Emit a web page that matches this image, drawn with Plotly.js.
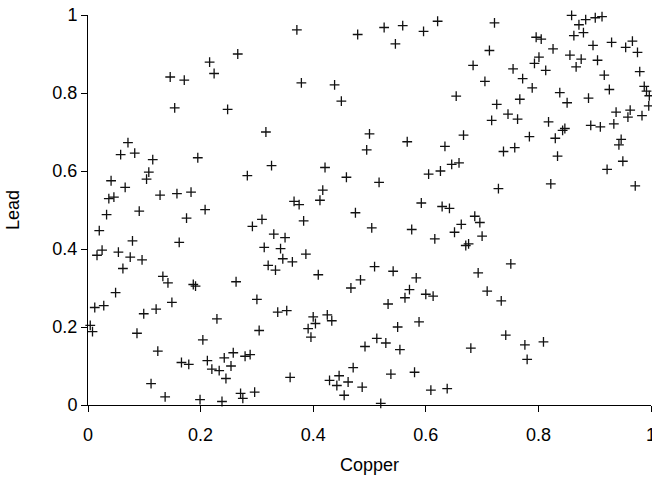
<!DOCTYPE html>
<html>
<head>
<meta charset="utf-8">
<script src="https://cdn.plot.ly/plotly-3.0.1.min.js"></script>
<style>
html,body{margin:0;padding:0;background:#fff;}
#chart{width:652px;height:477px;}
</style>
</head>
<body>
<div id="chart"></div>
<script>
const copper = [
0.216,0.224,0.146,0.171,0.154,0.248,0.071,0.371,0.479,0.266,0.379,0.438,0.450,0.316,0.500,
0.526,0.559,0.596,0.621,0.722,0.546,0.713,0.684,0.705,0.654,0.726,0.746,0.717,0.567,0.667,0.634,
0.859,0.872,0.884,0.901,0.913,0.863,0.880,0.796,0.805,0.897,0.930,0.967,0.955,0.976,0.826,0.856,
0.876,0.905,0.801,0.793,0.867,0.755,0.813,0.980,0.917,0.772,0.789,0.926,0.988,0.992,0.997,0.996,
0.838,0.851,0.889,0.767,0.763,0.818,0.843,0.847,0.893,0.910,0.938,0.963,0.959,0.984,0.934,0.784,
0.830,0.947,0.943,0.758,0.738,0.834,0.950,0.922,0.822,0.972,0.751,
0.058,0.083,0.115,0.195,0.108,0.104,0.041,0.066,0.037,0.046,0.128,0.158,0.183,0.033,0.091,0.175,
0.208,0.020,0.079,0.162,0.025,0.016,0.054,0.075,0.096,0.062,
0.133,0.142,0.187,0.191,0.049,0.012,0.028,0.099,0.121,0.149,0.229,0.004,0.008,0.087,0.204,0.124,
0.166,0.179,0.212,0.242,0.254,0.220,0.233,0.245,0.112,0.137,0.199,0.238,
0.495,0.326,0.283,0.421,0.459,0.417,0.412,0.366,0.375,0.475,0.309,0.292,0.383,0.330,0.350,0.313,
0.342,0.346,0.363,0.387,0.320,0.333,0.409,0.504,
0.263,0.300,0.484,0.467,0.337,0.353,0.400,0.425,0.433,0.404,0.391,0.396,0.304,0.258,0.279,0.288,
0.271,0.275,0.296,0.359,0.492,0.471,0.429,0.446,0.442,0.462,0.455,0.487,
0.646,0.659,0.605,0.626,0.517,0.729,0.592,0.629,0.642,0.687,0.696,0.663,0.575,0.651,0.700,0.616,
0.671,0.676,0.509,0.542,0.693,
0.583,0.571,0.563,0.600,0.613,0.533,0.709,0.734,0.588,0.550,0.513,0.529,0.554,0.742,0.680,0.538,
0.580,0.609,0.638,0.520,
0.776,0.809,0.780
];
const lead = [
0.879,0.850,0.841,0.833,0.762,0.758,0.673,0.962,0.950,0.900,0.826,0.821,0.779,0.700,0.695,
0.968,0.973,0.958,0.984,0.980,0.926,0.909,0.871,0.830,0.792,0.771,0.746,0.730,0.675,0.692,0.663,
0.999,0.975,0.988,0.993,0.996,0.947,0.955,0.943,0.938,0.922,0.930,0.933,0.917,0.904,0.913,0.897,
0.887,0.884,0.892,0.876,0.867,0.862,0.858,0.855,0.846,0.837,0.813,0.809,0.817,0.805,0.793,0.767,
0.801,0.775,0.787,0.784,0.733,0.726,0.704,0.709,0.717,0.713,0.751,0.756,0.738,0.742,0.721,0.688,
0.684,0.681,0.667,0.660,0.650,0.638,0.625,0.604,0.567,0.562,0.362,
0.642,0.646,0.629,0.634,0.597,0.579,0.575,0.558,0.529,0.533,0.538,0.542,0.546,0.488,0.497,0.479,
0.501,0.447,0.421,0.417,0.397,0.384,0.392,0.379,0.372,0.350,
0.330,0.313,0.309,0.305,0.288,0.250,0.255,0.234,0.246,0.263,0.221,0.204,0.188,0.184,0.167,0.138,
0.109,0.104,0.114,0.121,0.100,0.092,0.088,0.068,0.055,0.021,0.014,0.009,
0.654,0.614,0.588,0.609,0.584,0.551,0.525,0.522,0.514,0.493,0.476,0.458,0.472,0.438,0.429,0.404,
0.401,0.375,0.367,0.387,0.358,0.346,0.334,0.454,
0.316,0.271,0.321,0.300,0.238,0.242,0.226,0.231,0.216,0.209,0.196,0.174,0.191,0.134,0.125,0.129,
0.030,0.017,0.033,0.071,0.150,0.096,0.063,0.075,0.050,0.059,0.025,0.046,
0.617,0.621,0.592,0.600,0.571,0.555,0.518,0.509,0.504,0.484,0.468,0.463,0.450,0.443,0.433,0.426,
0.409,0.413,0.355,0.343,0.339,
0.326,0.296,0.275,0.284,0.279,0.259,0.292,0.267,0.213,0.200,0.171,0.159,0.142,0.179,0.146,0.079,
0.084,0.038,0.042,0.004,
0.154,0.162,0.117
];
const tickVals = [0, 0.2, 0.4, 0.6, 0.8, 1];
const tickText = ['0', '0.2', '0.4', '0.6', '0.8', '1'];

const FONT = 'Liberation Sans, Arial, sans-serif';
const trace = {
  x: copper, y: lead, type: 'scatter', mode: 'markers',
  cliponaxis: false,
  marker: {symbol: 'cross-thin', size: 7, line: {width: 1.3, color: '#111'}, color: '#111'},
  hoverinfo: 'none'
};
const axisCommon = {
  showgrid: false, zeroline: false, showline: true, linecolor: '#000', linewidth: 1,
  ticks: 'outside', ticklen: 6, tickwidth: 1, tickcolor: '#000',
  tickvals: tickVals, ticktext: tickText,
  ticklabeloverflow: 'allow',
  tickfont: {family: FONT, size: 18, color: '#000'},
  range: [0, 1], fixedrange: true
};
const layout = {
  width: 652, height: 477,
  margin: {l: 88, r: 1, t: 15, b: 72},
  paper_bgcolor: '#fff', plot_bgcolor: '#fff',
  showlegend: false,
  xaxis: Object.assign({}, axisCommon, {
    ticklabelstandoff: 7,
    title: {text: 'Copper', font: {family: FONT, size: 18, color: '#000'}, standoff: 14}
  }),
  yaxis: Object.assign({}, axisCommon, {
    title: {text: 'Lead', font: {family: FONT, size: 18, color: '#000'}, standoff: 28}
  })
};
Plotly.newPlot('chart', [trace], layout, {staticPlot: true, displayModeBar: false});
</script>
</body>
</html>
